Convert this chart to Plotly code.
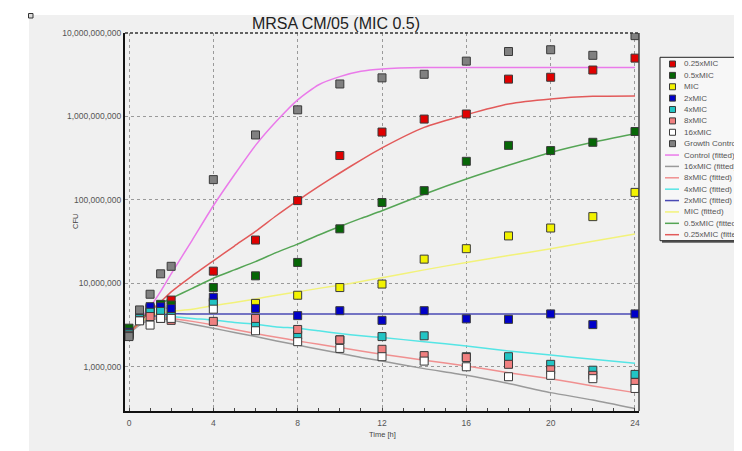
import plotly.graph_objects as go

# ---------------- data ----------------
time_h = [0, 0.5, 1, 1.5, 2, 4, 6, 8, 10, 12, 14, 16, 18, 20, 22, 24]

cfu_025xmic = [2.5e6, 4.0e6, 5.0e6, 5.5e6, 6.3e6, 1.4e7, 3.3e7, 9.8e7, 3.4e8, 6.5e8,
               9.3e8, 1.07e9, 2.8e9, 2.95e9, 3.6e9, 5.0e9]
cfu_05xmic = [2.9e6, 4.2e6, 5.0e6, 5.6e6, 5.5e6, 8.9e6, 1.23e7, 1.78e7, 4.5e7, 9.3e7,
              1.29e8, 2.9e8, 4.5e8, 3.9e8, 4.9e8, 6.6e8]
cfu_mic = [2.5e6, 3.8e6, 4.5e6, 4.8e6, 4.6e6, 6.0e6, 5.75e6, 7.2e6, 8.9e6, 9.8e6,
           1.95e7, 2.6e7, 3.7e7, 4.6e7, 6.3e7, 1.23e8]
cfu_2xmic = [2.6e6, 4.2e6, 5.25e6, 5.25e6, 5.0e6, 6.8e6, 5.0e6, 4.1e6, 4.7e6, 3.6e6,
             4.7e6, 3.75e6, 3.7e6, 4.3e6, 3.2e6, 4.3e6]
cfu_4xmic = [2.5e6, 3.8e6, 4.5e6, 4.6e6, 4.0e6, 5.75e6, 3.3e6, 2.4e6, 2.1e6, 2.3e6,
             2.35e6, 1.32e6, 1.32e6, 1.07e6, 9.1e5, 8.1e5]
cfu_8xmic = [2.4e6, 3.6e6, 4.0e6, 3.8e6, 3.6e6, 3.5e6, 3.8e6, 2.8e6, 2.1e6, 1.62e6,
             1.36e6, 1.29e6, 1.07e6, 9.2e5, 7.9e5, 6.5e5]
cfu_16xmic = [2.35e6, 3.55e6, 3.16e6, 3.8e6, 3.8e6, 4.9e6, 2.7e6, 2.0e6, 1.66e6, 1.32e6,
              1.17e6, 1.0e6, 7.6e5, 7.9e5, 7.2e5, 5.5e5]
cfu_growth = [2.3e6, 4.8e6, 7.4e6, 1.3e7, 1.6e7, 1.75e8, 6.0e8, 1.2e9, 2.45e9, 2.9e9,
              3.2e9, 4.6e9, 6.0e9, 6.3e9, 5.4e9, 9.3e9]

fit_t = [0, 0.5, 1, 1.5, 2, 3, 4, 5, 6, 7, 8, 9, 10, 11, 12, 14, 16, 18, 20, 22, 24]
fit_control = [2.5e6, 3.6e6, 5.2e6, 8.0e6, 1.3e7, 3.3e7, 8.5e7, 2.0e8, 4.5e8, 8.8e8,
               1.58e9, 2.4e9, 3.0e9, 3.47e9, 3.7e9, 3.85e9, 3.85e9, 3.85e9, 3.85e9,
               3.85e9, 3.85e9]
fit_16xmic = [2.5e6, 3.16e6, 3.63e6, 3.8e6, 3.63e6, 3.24e6, 2.9e6, 2.57e6, 2.3e6, 2.04e6,
              1.82e6, 1.62e6, 1.45e6, 1.29e6, 1.17e6, 9.5e5, 7.9e5, 6.3e5, 4.9e5, 4.0e5,
              3.16e5]
fit_8xmic = [2.5e6, 3.3e6, 3.8e6, 3.9e6, 3.8e6, 3.5e6, 3.16e6, 2.8e6, 2.5e6, 2.26e6,
             2.04e6, 1.86e6, 1.7e6, 1.55e6, 1.41e6, 1.2e6, 1.02e6, 8.5e5, 7.2e5, 5.9e5,
             4.9e5]
fit_4xmic = [2.5e6, 3.3e6, 3.9e6, 4.1e6, 4.0e6, 3.8e6, 3.63e6, 3.4e6, 3.24e6, 3.0e6,
             2.9e6, 2.7e6, 2.5e6, 2.35e6, 2.24e6, 2.0e6, 1.78e6, 1.55e6, 1.38e6, 1.23e6,
             1.1e6]
fit_2xmic = [2.5e6, 3.3e6, 3.9e6, 4.2e6, 4.3e6, 4.3e6, 4.3e6, 4.3e6, 4.3e6, 4.3e6,
             4.3e6, 4.3e6, 4.3e6, 4.3e6, 4.3e6, 4.3e6, 4.3e6, 4.3e6, 4.3e6, 4.3e6, 4.3e6]
fit_mic = [2.5e6, 3.3e6, 4.0e6, 4.4e6, 4.6e6, 4.9e6, 5.4e6, 5.9e6, 6.5e6, 7.2e6,
           7.9e6, 8.7e6, 9.5e6, 1.05e7, 1.17e7, 1.45e7, 1.78e7, 2.15e7, 2.6e7, 3.2e7,
           3.9e7]
fit_05xmic = [2.5e6, 3.55e6, 4.7e6, 5.75e6, 6.6e6, 8.7e6, 1.15e7, 1.45e7, 1.82e7, 2.35e7,
              2.95e7, 3.8e7, 4.8e7, 6.0e7, 7.4e7, 1.17e8, 1.78e8, 2.6e8, 3.7e8, 4.9e8,
              6.2e8]
fit_025xmic = [2.5e6, 3.4e6, 4.6e6, 6.0e6, 7.9e6, 1.23e7, 1.86e7, 2.8e7, 4.2e7, 6.5e7,
               9.8e7, 1.45e8, 2.1e8, 3.0e8, 4.2e8, 7.4e8, 1.05e9, 1.41e9, 1.62e9, 1.74e9,
               1.76e9]

y_tick_vals = [1e6, 1e7, 1e8, 1e9, 1e10]
y_tick_labels = ["1,000,000", "10,000,000", "100,000,000", "1,000,000,000", "10,000,000,000"]
x_tick_vals = [0, 4, 8, 12, 16, 20, 24]

marker_series = [
    ("0.25xMIC", cfu_025xmic, "#e00000"),
    ("0.5xMIC", cfu_05xmic, "#066606"),
    ("MIC", cfu_mic, "#f2f200"),
    ("2xMIC", cfu_2xmic, "#0000c8"),
    ("4xMIC", cfu_4xmic, "#22c4c4"),
    ("8xMIC", cfu_8xmic, "#f08080"),
    ("16xMIC", cfu_16xmic, "#ffffff"),
    ("Growth Control", cfu_growth, "#808080"),
]
line_series = [
    ("Control (fitted)", fit_control, "#ea7aea"),
    ("16xMIC (fitted)", fit_16xmic, "#9a9a9a"),
    ("8xMIC (fitted)", fit_8xmic, "#f09090"),
    ("4xMIC (fitted)", fit_4xmic, "#55e5e5"),
    ("2xMIC (fitted)", fit_2xmic, "#4a4ab4"),
    ("MIC (fitted)", fit_mic, "#f2f27a"),
    ("0.5xMIC (fitted)", fit_05xmic, "#55a555"),
    ("0.25xMIC (fitted)", fit_025xmic, "#e25a5a"),
]

# ---------------- figure ----------------
# The page body has an 8px margin, so the figure is sized to fill the
# remaining window; helper functions take window (screenshot) pixels.
OFF = 8
W, H = 742 - OFF, 451 - OFF
ML, MT = 125 - OFF, 33 - OFF
PR, PB = 639 - OFF, 411 - OFF
MR, MB = W - PR, H - PB
PW, PH = PR - ML, PB - MT


def px(x):
    return (x - OFF - ML) / PW


def py(y):
    return 1 - (y - OFF - MT) / PH


fig = go.Figure()

for name, vals, col in line_series:
    fig.add_trace(go.Scatter(
        x=fit_t, y=vals, mode="lines", name=name, showlegend=False,
        line=dict(color=col, width=1.5, shape="spline", smoothing=0.6),
        hoverinfo="skip"))

for name, vals, col in marker_series:
    fig.add_trace(go.Scatter(
        x=time_h, y=vals, mode="markers", name=name, showlegend=False,
        marker=dict(symbol="square", size=8, color=col,
                    line=dict(color="#3a3a3a", width=1))))

shapes = []
annotations = []

# white outer strips and the tiny icon
shapes.append(dict(type="rect", xref="paper", yref="paper", x0=px(0), x1=px(29),
                   y0=py(460), y1=py(0), fillcolor="white", line=dict(width=0), layer="below"))
shapes.append(dict(type="rect", xref="paper", yref="paper", x0=px(0), x1=px(760),
                   y0=py(15), y1=py(0), fillcolor="white", line=dict(width=0), layer="below"))
shapes.append(dict(type="rect", xref="paper", yref="paper", x0=px(28.5), x1=px(33),
                   y0=py(18), y1=py(13.5), fillcolor="#dddddd",
                   line=dict(color="#333333", width=1)))

# frame: dashed top, solid right
shapes.append(dict(type="line", xref="paper", yref="paper", x0=0, x1=1, y0=1, y1=1,
                   line=dict(color="#333333", width=1.5, dash="3px,2px")))
shapes.append(dict(type="line", xref="paper", yref="paper", x0=1, x1=1, y0=0, y1=1,
                   line=dict(color="#444444", width=1.5)))

# custom legend
LX0, LX1, LY0, LY1 = 660, 770, 57.3, 240.7
shapes.append(dict(type="rect", xref="paper", yref="paper", x0=px(LX0 + 2), x1=px(LX1 + 2),
                   y0=py(LY1 + 2), y1=py(LY0 + 2), fillcolor="#555555", line=dict(width=0)))
shapes.append(dict(type="rect", xref="paper", yref="paper", x0=px(LX0), x1=px(LX1),
                   y0=py(LY1), y1=py(LY0), fillcolor="#f7f7f7",
                   line=dict(color="#222222", width=1)))
row0, rowstep = 64.0, 11.38
entries = [(n, c, "m") for n, _, c in marker_series] + [(n, c, "l") for n, _, c in line_series]
for i, (name, col, kind) in enumerate(entries):
    ry = row0 + i * rowstep
    if kind == "m":
        shapes.append(dict(type="rect", xref="paper", yref="paper",
                           x0=px(669.5), x1=px(675.5), y0=py(ry + 3), y1=py(ry - 3),
                           fillcolor=col, line=dict(color="#3a3a3a", width=1)))
    else:
        shapes.append(dict(type="line", xref="paper", yref="paper",
                           x0=px(665), x1=px(679), y0=py(ry), y1=py(ry),
                           line=dict(color=col, width=1.5)))
    annotations.append(dict(text=name, xref="paper", yref="paper", x=px(682), y=py(ry),
                            xanchor="left", yanchor="middle", showarrow=False,
                            font=dict(size=8, color="#555555")))

# axis titles
annotations.append(dict(text="Time [h]", xref="paper", yref="paper", x=0.5, y=py(434),
                        xanchor="center", yanchor="middle", showarrow=False,
                        font=dict(size=7.5, color="#444444")))
annotations.append(dict(text="CFU", xref="paper", yref="paper", x=px(75), y=0.5,
                        xanchor="center", yanchor="middle", showarrow=False, textangle=-90,
                        font=dict(size=7.5, color="#444444")))

fig.update_layout(
    width=W, height=H, autosize=False,
    margin=dict(l=ML, r=MR, t=MT, b=MB, pad=0),
    paper_bgcolor="#f0f0f0", plot_bgcolor="#f0f0f0",
    font=dict(family="Liberation Sans, Arial, sans-serif", color="#444444"),
    title=dict(text="MRSA CM/05 (MIC 0.5)", x=(336 - OFF) / W, xanchor="center",
               y=1 - (23 - OFF) / H, yanchor="middle", yref="container",
               font=dict(size=16, color="#222222")),
    showlegend=False,
    shapes=shapes, annotations=annotations,
    xaxis=dict(range=[-0.19, 24.19], tickvals=x_tick_vals, ticks="inside", ticklen=3,
               tickcolor="#444444", showgrid=True, gridcolor="#9a9a9a", griddash="dot",
               gridwidth=1, zeroline=False, showline=True, linecolor="#111111", linewidth=2,
               tickfont=dict(size=8.5, color="#555555"), ticklabelstandoff=3,
               minor=dict(dtick=1, tick0=0, ticks="inside", ticklen=3, tickcolor="#444444",
                          showgrid=False)),
    yaxis=dict(type="log", range=[5.47, 10.0], tickvals=y_tick_vals, ticktext=y_tick_labels,
               ticks="", showgrid=True, gridcolor="#9a9a9a", griddash="dot", gridwidth=1,
               zeroline=False, showline=True, linecolor="#111111", linewidth=2,
               tickfont=dict(size=8.5, color="#555555")),
)

fig.write_html("out.html")
